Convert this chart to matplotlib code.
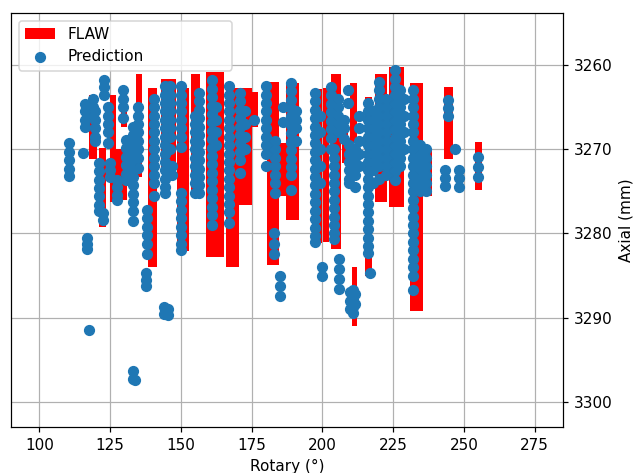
import numpy as np
import matplotlib
matplotlib.use('Agg')
import matplotlib.pyplot as plt

# FLAW boxes: rotary span (deg) and axial span (mm)
flaw_left = [117.7, 121.2, 124.8, 129.0, 127.2, 134.0, 133.5, 138.5, 143.1, 148.8,
             153.7, 159.0, 166.1, 170.7, 175.0, 180.6, 183.0, 187.3, 196.5, 200.3,
             203.0, 206.8, 209.6, 210.3, 214.9, 218.5, 223.4, 230.8, 235.0, 242.9,
             253.8]
flaw_right = [120.2, 123.7, 127.2, 131.1, 131.0, 136.4, 136.4, 141.4, 148.4, 153.0,
              156.6, 165.4, 170.7, 175.0, 177.4, 184.5, 187.3, 191.9, 200.0, 202.5,
              206.6, 208.9, 212.4, 212.4, 217.4, 223.0, 229.0, 235.4, 238.6, 246.0,
              256.3]
flaw_top = [3263.5, 3269.8, 3263.5, 3263.3, 3270.0, 3261.0, 3268.9, 3262.7, 3261.7, 3262.7,
            3261.0, 3260.8, 3262.7, 3262.7, 3263.2, 3262.0, 3269.2, 3262.1, 3262.8, 3262.7,
            3261.0, 3267.3, 3262.1, 3284.0, 3263.8, 3261.0, 3260.2, 3262.1, 3270.0, 3262.6,
            3269.1]
flaw_bottom = [3271.2, 3279.2, 3276.3, 3267.4, 3276.0, 3269.6, 3273.3, 3284.0, 3272.8, 3282.1,
               3275.6, 3282.8, 3284.0, 3276.6, 3267.4, 3283.7, 3275.6, 3278.4, 3281.1, 3281.0,
               3281.9, 3271.6, 3269.2, 3291.0, 3285.1, 3276.3, 3276.8, 3289.2, 3275.6, 3271.2,
               3274.8]

# predictions, grouped by rotary position: (rotary, [axial values])
pred_columns = [
    (110.5, [3269.3, 3270.3, 3271.3, 3272.3, 3273.2]),
    (115.6, [3270.4]),
    (116.3, [3264.6, 3265.5, 3266.5, 3267.3]),
    (117.0, [3280.5, 3281.2, 3281.9]),
    (117.7, [3291.5]),
    (119.0, [3264.0, 3265.0, 3266.0]),
    (119.8, [3265.5, 3266.5, 3267.5, 3268.5, 3269.0]),
    (121.2, [3271.6, 3272.6, 3273.6, 3274.6, 3275.6, 3276.6, 3277.3]),
    (122.6, [3277.6, 3278.4]),
    (123.0, [3261.8, 3262.6, 3263.5]),
    (124.2, [3265.0, 3266.0, 3267.0, 3268.0, 3269.2]),
    (125.0, [3271.6, 3272.5, 3273.3]),
    (127.6, [3273.6, 3274.5, 3275.4, 3276.0]),
    (129.7, [3263.0, 3264.0, 3265.0, 3266.3]),
    (130.5, [3268.9, 3269.9, 3270.9, 3271.9, 3272.9, 3273.6]),
    (133.0, [3267.3, 3268.3, 3269.3, 3270.3, 3271.3, 3272.3, 3273.3, 3274.3,
             3275.3, 3276.3, 3277.3, 3278.5]),
    (133.2, [3296.3, 3297.3]),
    (133.9, [3297.4]),
    (135.0, [3265.0, 3266.0, 3267.0, 3268.0, 3269.0, 3270.0, 3271.0, 3272.2]),
    (138.2, [3277.2, 3278.2, 3279.2, 3280.2, 3281.2, 3282.5]),
    (137.8, [3284.7, 3285.5, 3286.3]),
    (140.5, [3264.0, 3265.0, 3266.0, 3267.0, 3268.0, 3269.0, 3270.0, 3271.0,
             3272.0, 3273.0, 3274.0, 3275.5]),
    (144.5, [3262.5, 3263.5, 3264.5, 3265.5, 3266.5, 3267.5, 3268.5, 3269.5,
             3270.5, 3271.5, 3272.5, 3273.5, 3274.5, 3275.2]),
    (146.0, [3262.5, 3263.5, 3264.5, 3265.5, 3266.5, 3267.5, 3268.5, 3270.0]),
    (147.0, [3272.0, 3273.0]),
    (144.2, [3288.8, 3289.6]),
    (145.4, [3289.0, 3289.7]),
    (150.0, [3262.5, 3263.5, 3264.5, 3265.5, 3266.5, 3267.5, 3268.5, 3269.7]),
    (150.0, [3275.2, 3276.2, 3277.2, 3278.2, 3279.2, 3280.2, 3281.2, 3282.0]),
    (155.0, [3266.0, 3267.0, 3268.0, 3269.0, 3270.0, 3271.0, 3272.0, 3273.0,
             3274.0, 3275.2]),
    (156.3, [3263.3, 3264.3, 3265.3, 3266.3, 3267.3, 3268.3, 3269.3, 3270.3,
             3271.3, 3272.3, 3273.3, 3274.3, 3275.2]),
    (161.0, [3261.8, 3262.8, 3263.8, 3264.8, 3265.8, 3266.8, 3267.8, 3268.8,
             3269.8, 3270.8, 3271.8, 3272.8, 3273.8, 3274.8, 3275.8, 3276.8,
             3277.8, 3279.0]),
    (162.3, [3265.0, 3266.5, 3268.0, 3269.5]),
    (167.0, [3262.5, 3263.5, 3264.5, 3265.5, 3266.5, 3267.5, 3268.5, 3269.5,
             3270.5, 3271.5, 3272.5, 3273.5, 3274.5, 3275.5, 3276.5, 3277.5, 3278.7]),
    (171.0, [3263.3, 3264.3, 3265.3, 3266.3, 3267.3, 3268.3, 3269.3, 3270.3,
             3271.3, 3272.8]),
    (172.5, [3265.5, 3267.0, 3268.5, 3270.0]),
    (176.0, [3266.5]),
    (180.0, [3262.5, 3263.5, 3264.5, 3265.5, 3266.5, 3267.5, 3268.5, 3269.5,
             3270.5, 3272.0]),
    (183.2, [3269.0, 3270.0, 3271.0, 3272.0, 3273.0, 3274.0, 3275.2]),
    (183.0, [3280.0, 3281.3, 3282.5]),
    (185.0, [3285.0, 3286.2, 3287.4]),
    (186.0, [3265.0, 3266.8]),
    (189.0, [3262.1, 3263.1, 3264.1, 3265.1, 3266.1, 3267.1, 3268.1, 3269.1,
             3270.1, 3271.1, 3272.1, 3273.1, 3274.8]),
    (190.5, [3265.5, 3266.5, 3267.5, 3269.0]),
    (197.5, [3263.3, 3264.3, 3265.3, 3266.3, 3267.3, 3268.3, 3269.3, 3270.3,
             3271.3, 3272.3, 3273.3, 3274.3, 3275.3, 3276.3, 3277.3, 3278.3,
             3279.3, 3280.3, 3281.0]),
    (199.0, [3266.0, 3268.0, 3270.0, 3272.0, 3274.0]),
    (200.0, [3284.0, 3285.0]),
    (203.0, [3262.6, 3263.6, 3264.6, 3265.6, 3266.6, 3267.6, 3268.6, 3270.0]),
    (204.0, [3270.0, 3271.0, 3272.0, 3273.0, 3274.0, 3275.0, 3276.0, 3277.0,
             3278.0, 3279.0, 3280.0, 3280.7]),
    (205.5, [3264.0, 3265.0, 3266.0, 3267.0, 3268.0]),
    (206.0, [3283.0, 3284.2, 3285.4, 3286.6]),
    (207.5, [3266.5, 3267.5, 3268.8]),
    (209.0, [3263.0, 3264.5]),
    (209.5, [3269.5, 3270.5, 3271.5, 3272.5, 3273.5, 3274.0]),
    (211.5, [3270.0, 3271.0, 3272.0, 3273.0, 3274.5]),
    (209.8, [3287.0, 3288.0, 3289.0]),
    (210.8, [3286.7, 3287.8, 3288.8, 3289.5]),
    (211.6, [3287.2, 3288.4]),
    (213.0, [3266.0, 3267.5, 3269.0, 3270.5, 3272.0]),
    (216.0, [3264.5, 3265.5, 3266.5, 3267.5, 3268.5, 3269.5, 3270.5, 3271.5,
             3272.5, 3273.5, 3274.5, 3275.5, 3276.5, 3277.5, 3278.5, 3279.5,
             3280.5, 3281.5, 3282.3]),
    (216.7, [3284.7]),
    (218.0, [3265.5, 3266.5, 3267.5, 3268.5, 3269.5, 3270.5, 3271.5, 3272.5, 3274.0]),
    (220.0, [3262.0, 3263.0, 3264.0, 3265.0, 3266.0, 3267.0, 3268.0, 3269.0,
             3270.0, 3271.0, 3272.0, 3273.5]),
    (222.5, [3264.0, 3265.0, 3266.0, 3267.0, 3268.0, 3269.0, 3270.0, 3271.0,
             3272.0, 3273.0]),
    (225.5, [3260.6, 3261.6, 3262.6, 3263.6, 3264.6, 3265.6, 3266.6, 3267.6,
             3268.6, 3269.6, 3270.6, 3271.6, 3272.6, 3273.6]),
    (227.5, [3263.0, 3264.0, 3265.0, 3266.0, 3267.0, 3268.0, 3269.0, 3270.0,
             3271.0, 3272.0]),
    (229.0, [3264.0, 3266.0, 3268.0, 3270.0]),
    (232.0, [3263.0, 3264.0, 3265.0, 3266.0, 3267.0, 3268.0, 3269.0, 3270.0,
             3271.0, 3272.0, 3273.0, 3274.0, 3275.0, 3276.0, 3277.0, 3278.0,
             3279.0, 3280.0, 3281.0, 3282.0, 3283.0, 3284.0, 3285.0, 3286.7]),
    (234.5, [3269.5, 3270.5, 3271.5, 3272.5, 3273.5, 3274.5, 3275.0]),
    (236.5, [3270.0, 3271.0, 3272.0, 3273.0, 3274.0, 3275.0]),
    (244.3, [3264.1, 3265.1, 3266.1]),
    (247.0, [3270.0]),
    (243.2, [3272.4, 3273.4, 3274.4]),
    (248.2, [3272.4, 3273.4, 3274.5]),
    (255.0, [3270.9, 3272.1, 3273.3]),
]

pred_rotary = []
pred_axial = []
for rot, axs in pred_columns:
    for a in axs:
        pred_rotary.append(rot)
        pred_axial.append(a)

# original was drawn a bit larger and scaled down, so use dpi 110
fig = plt.figure(figsize=(634 / 110, 473 / 110), dpi=110)
ax = fig.add_axes([0.0174, 0.0973, 0.8706, 0.8752])

left = np.array(flaw_left)
width = np.array(flaw_right) - left
bottom = np.array(flaw_top)
height = np.array(flaw_bottom) - bottom
bars = ax.bar(left, height, width=width, bottom=bottom, align='edge',
              color='red', label='FLAW', zorder=2)
pts = ax.scatter(pred_rotary, pred_axial, s=40, color='#1f77b4', label='Prediction', zorder=3)

ax.set_xlim(90, 285)
ax.set_ylim(3303, 3253.8)
ax.set_xticks([100, 125, 150, 175, 200, 225, 250, 275])
ax.set_yticks([3260, 3270, 3280, 3290, 3300])
ax.yaxis.tick_right()
ax.yaxis.set_label_position('right')
ax.set_xlabel('Rotary (°)')
ax.set_ylabel('Axial (mm)')
ax.grid(True, zorder=0)
ax.set_axisbelow(True)
# legend box in the reference is wider than its text
ax.legend(handles=[bars, pts], loc='upper left', mode='expand',
          bbox_to_anchor=(0, 1, 0.415, 0))

fig.savefig('out.png', dpi=110)
